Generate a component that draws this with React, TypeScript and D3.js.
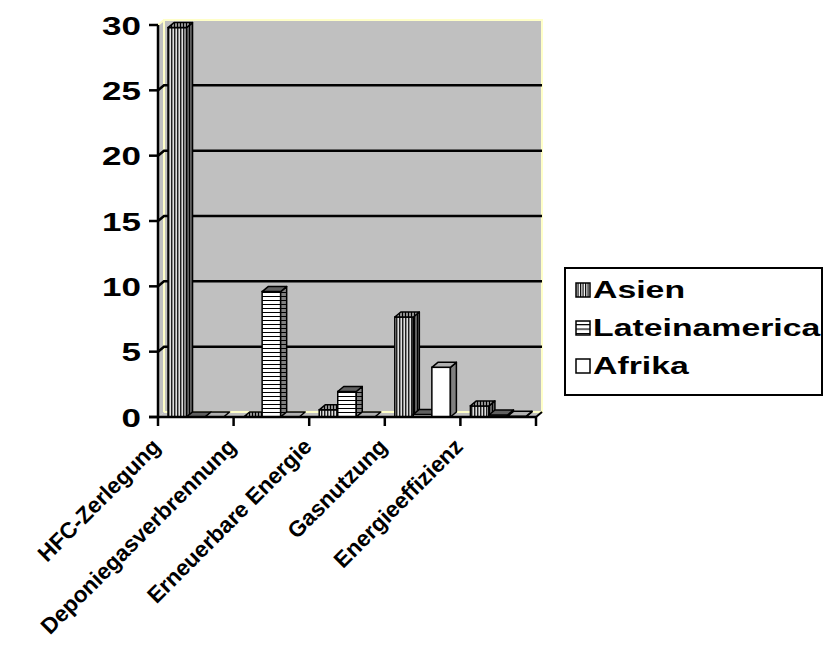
import React from 'react';
import * as d3 from 'd3';

const categories = ['HFC-Zerlegung', 'Deponiegasverbrennung', 'Erneuerbare Energie', 'Gasnutzung', 'Energieeffizienz'];
const seriesNames = ['Asien', 'Lateinamerica', 'Afrika'];
const asien = [29.8, 0, 0.55, 7.65, 0.85];
const lateinamerica = [0, 9.6, 1.95, 0.2, 0.15];
const afrika = [0, 0, 0, 3.8, 0.05];
const yTicks = [0, 5, 10, 15, 20, 25, 30];

const seriesValues = [asien, lateinamerica, afrika];
const patternIds = ['asien', 'lat', 'afr'];

export default function App() {
  const W = 829, H = 652;
  const x0 = 158, x1 = 536, yBase = 417, yTop = 25;
  const dx = 6, dy = -5;
  const x = d3.scaleBand().domain(categories).range([x0, x1]);
  const y = d3.scaleLinear().domain([0, 30]).range([yBase, yTop]);
  const inner = d3.scaleBand().domain(seriesNames).range([0, x.bandwidth()]).paddingInner(0).paddingOuter(0.54);
  const bw = inner.bandwidth();
  const font = 'Liberation Sans, Arial, sans-serif';
  const wallYellow = '#ffffc8';

  const pts = (arr: number[][]) => arr.map(p => p.join(',')).join(' ');

  const bars: JSX.Element[] = [];
  categories.forEach((c, ci) => {
    seriesNames.forEach((s, si) => {
      const v = seriesValues[si][ci];
      const bx = (x(c) as number) + (inner(s) as number);
      const yv = y(v);
      const pid = patternIds[si];
      bars.push(
        <g key={c + s}>
          {v > 0 && (
            <rect x={bx} y={yv} width={bw} height={yBase - yv} fill={`url(#${pid}-front)`} stroke="#000" strokeWidth={1.5} />
          )}
          {v > 0 && (
            <polygon points={pts([[bx + bw, yv], [bx + bw + dx, yv + dy], [bx + bw + dx, yBase + dy], [bx + bw, yBase]])}
              fill={`url(#${pid}-side)`} stroke="#000" strokeWidth={1.5} strokeLinejoin="round" />
          )}
          <polygon points={pts([[bx, yv], [bx + dx, yv + dy], [bx + bw + dx, yv + dy], [bx + bw, yv]])}
            fill={`url(#${pid}-top)`} stroke="#000" strokeWidth={1.5} strokeLinejoin="round" />
        </g>
      );
    });
  });

  const catTicks = categories.map(c => x(c) as number).concat([x1]);

  return (
    <svg width={W} height={H} style={{ position: 'absolute', left: 0, top: 0, background: '#fff' }}>
      <defs>
        <pattern id="asien-front" width={3} height={4} patternUnits="userSpaceOnUse">
          <rect width={3} height={4} fill="#e0e0e0" />
          <rect x={0} width={1} height={4} fill="#202020" />
          <rect x={1} width={1} height={4} fill="#8a8a8a" />
        </pattern>
        <pattern id="asien-side" width={3} height={4} patternUnits="userSpaceOnUse">
          <rect width={3} height={4} fill="#606060" />
          <rect x={0} width={1} height={4} fill="#000" />
        </pattern>
        <pattern id="asien-top" width={3} height={4} patternUnits="userSpaceOnUse">
          <rect width={3} height={4} fill="#909090" />
          <rect x={0} width={1} height={4} fill="#000" />
        </pattern>
        <pattern id="asien-legend" width={2.5} height={4} patternUnits="userSpaceOnUse">
          <rect width={2.5} height={4} fill="#fff" />
          <rect x={0} width={1.2} height={4} fill="#000" />
        </pattern>
        <pattern id="lat-front" width={4} height={4} patternUnits="userSpaceOnUse">
          <rect width={4} height={4} fill="#fff" />
          <rect y={0} width={4} height={1} fill="#000" />
        </pattern>
        <pattern id="lat-side" width={4} height={4} patternUnits="userSpaceOnUse">
          <rect width={4} height={4} fill="#808080" />
          <rect y={0} width={4} height={1} fill="#000" />
        </pattern>
        <pattern id="lat-top" width={4} height={4} patternUnits="userSpaceOnUse">
          <rect width={4} height={4} fill="#606060" />
        </pattern>
        <pattern id="lat-legend" width={4} height={4.5} patternUnits="userSpaceOnUse">
          <rect width={4} height={4.5} fill="#fff" />
          <rect y={0} width={4} height={1.2} fill="#000" />
        </pattern>
        <pattern id="afr-front" width={4} height={4} patternUnits="userSpaceOnUse">
          <rect width={4} height={4} fill="#fff" />
        </pattern>
        <pattern id="afr-side" width={4} height={4} patternUnits="userSpaceOnUse">
          <rect width={4} height={4} fill="#808080" />
        </pattern>
        <pattern id="afr-top" width={4} height={4} patternUnits="userSpaceOnUse">
          <rect width={4} height={4} fill="#b0b0b0" />
        </pattern>
        <pattern id="afr-legend" width={4} height={4} patternUnits="userSpaceOnUse">
          <rect width={4} height={4} fill="#fff" />
        </pattern>
      </defs>

      {/* side wall */}
      <polygon points={pts([[x0, yTop], [x0 + dx, yTop + dy], [x0 + dx, yBase + dy], [x0, yBase]])} fill="#c0c0c0" />
      {/* back wall */}
      <rect x={x0 + dx} y={yTop + dy} width={x1 - x0} height={yBase - yTop} fill="#c0c0c0" />
      {/* floor */}
      <polygon points={pts([[x0, yBase], [x0 + dx, yBase + dy], [x1 + dx, yBase + dy], [x1, yBase]])} fill="#c0c0c0" />
      {/* wall borders */}
      <polyline points={pts([[x0 + dx, yBase + dy], [x0 + dx, yTop + dy], [x1 + dx, yTop + dy], [x1 + dx, yBase + dy], [x0 + dx, yBase + dy]])}
        fill="none" stroke={wallYellow} strokeWidth={2} />
      <line x1={x0} y1={yTop} x2={x0 + dx} y2={yTop + dy} stroke={wallYellow} strokeWidth={2} />

      {/* gridlines */}
      {yTicks.filter(t => t > 0 && t < 30).map(t => (
        <polyline key={t} points={pts([[x0, y(t)], [x0 + dx, y(t) + dy], [x1 + dx, y(t) + dy]])}
          fill="none" stroke="#000" strokeWidth={2.5} />
      ))}

      {bars}

      {/* axes */}
      <line x1={x0} y1={yTop} x2={x0} y2={yBase} stroke="#000" strokeWidth={2.5} />
      {yTicks.map(t => (
        <line key={t} x1={x0 - 9} y1={y(t)} x2={x0} y2={y(t)} stroke="#000" strokeWidth={2.5} />
      ))}
      <line x1={x0 - 9} y1={yBase} x2={x1} y2={yBase} stroke="#000" strokeWidth={2.5} />
      <line x1={x1} y1={yBase} x2={x1 + dx} y2={yBase + dy} stroke="#000" strokeWidth={2} />
      {catTicks.map((t, i) => (
        <line key={i} x1={t} y1={yBase} x2={t} y2={yBase + 9} stroke="#000" strokeWidth={2.5} />
      ))}

      {yTicks.map(t => (
        <text key={t} transform={`translate(141,${y(t)}) scale(1.32,1)`} dy="0.36em" textAnchor="end"
          fontFamily={font} fontWeight="bold" fontSize={26.5} fill="#000">{t}</text>
      ))}

      {categories.map(c => (
        <text key={c} transform={`translate(${(x(c) as number) + x.bandwidth() / 2 - 34},${448}) rotate(-45)`}
          textAnchor="end" fontFamily={font} fontWeight="bold" fontSize={22.5} fill="#000">{c}</text>
      ))}

      {/* legend */}
      <rect x={565} y={268} width={257} height={127} fill="#fff" stroke="#000" strokeWidth={2} />
      {seriesNames.map((s, i) => {
        const cy = 290 + i * 38;
        return (
          <g key={s}>
            <rect x={576} y={cy - 7} width={14} height={14} fill={`url(#${patternIds[i]}-legend)`} stroke="#000" strokeWidth={1.5} />
            <text transform={`translate(593,${cy + 8}) scale(1.47,1)`} fontFamily={font} fontWeight="bold" fontSize={23} fill="#000">{s}</text>
          </g>
        );
      })}
    </svg>
  );
}
